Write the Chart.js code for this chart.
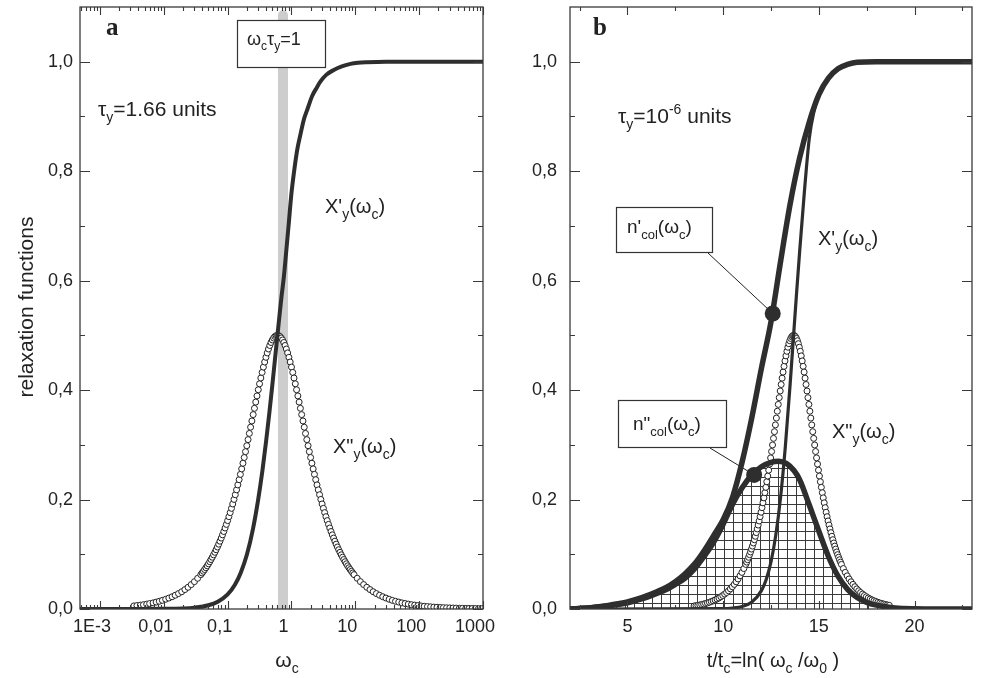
<!DOCTYPE html>
<html>
<head>
<meta charset="utf-8">
<script src="https://cdn.jsdelivr.net/npm/chart.js@4.4.1/dist/chart.umd.min.js"></script>
<style>
  body { margin: 0; background: #fff; overflow: hidden; }
  #wrap { position: relative; width: 981px; height: 678px; }
  canvas { position: absolute; top: 0; }
  #chartA { left: 0; }
  #chartB { left: 490px; }
</style>
</head>
<body>
<div id="wrap">
  <canvas id="chartB" width="491" height="678"></canvas>
  <canvas id="chartA" width="500" height="678"></canvas>
</div>
<script>
//***DATA***
// panel a : omega axis (log)
var omegaMin = 0.000487, omegaMax = 1000
var omegaTicks = [0.001, 0.01, 0.1, 1, 10, 100, 1000]
var omegaLabels = ['1E-3', '0,01', '0,1', '1', '10', '100', '1000']
var yTicks = [0, 0.2, 0.4, 0.6, 0.8, 1.0]
var yLabels = ['0,0', '0,2', '0,4', '0,6', '0,8', '1,0']
var yMinor = [0.1, 0.3, 0.5, 0.7, 0.9]

// X'y(wc), panel a
var omegaXpA = [0.000487, 0.005, 0.01, 0.02, 0.03, 0.05, 0.07, 0.1, 0.13, 0.16, 0.2, 0.25, 0.3, 0.35, 0.4, 0.45, 0.5, 0.55, 0.6, 0.65, 0.7, 0.76, 0.83, 0.9, 1.0, 1.1, 1.23, 1.4, 1.56, 1.8, 2.1, 2.5, 2.85, 3.5, 4.6, 6, 8.4, 11, 15, 30, 1000]
var xpA = [0, 0.0001, 0.0003, 0.0011, 0.0025, 0.0068, 0.0133, 0.0268, 0.0445, 0.066, 0.099, 0.147, 0.199, 0.252, 0.306, 0.358, 0.408, 0.455, 0.498, 0.537, 0.572, 0.607, 0.655, 0.70, 0.76, 0.80, 0.839, 0.87, 0.894, 0.915, 0.937, 0.953, 0.964, 0.976, 0.985, 0.991, 0.996, 0.998, 0.999, 1.0, 1.0]

// X"y(wc), panel a (open circles)
var omegaXppA = [
  0.0034, 0.0038, 0.0043, 0.0048, 0.0054, 0.0060, 0.0068, 0.0076, 0.0085, 0.0095, 0.0107, 0.0120, 0.0135, 0.0151, 0.0170, 0.0191, 0.0214, 0.0240, 0.0269, 0.0302, 0.0339, 0.0380,
  0.0398, 0.0417, 0.0436, 0.0457, 0.0479, 0.0501, 0.0525, 0.0549, 0.0575, 0.0602, 0.0631, 0.0660, 0.0692, 0.0724, 0.0758, 0.0794, 0.0831, 0.0871, 0.0912, 0.0955,
  0.1000, 0.1047, 0.1096, 0.1148, 0.1202, 0.1258, 0.1318, 0.1380, 0.1445, 0.1513, 0.1584, 0.1659, 0.1737, 0.1819, 0.1905, 0.1995, 0.2089, 0.2187, 0.2290, 0.2398,
  0.2511, 0.2630, 0.2754, 0.2883, 0.3019, 0.3161, 0.3310, 0.3466, 0.3630, 0.3801, 0.3980, 0.4168, 0.4364, 0.4570, 0.4785, 0.5011, 0.5247, 0.5494, 0.5753,
  0.6024,
  0.6308, 0.6605, 0.6917, 0.7243, 0.7584, 0.7942, 0.8316, 0.8707, 0.9118, 0.9548, 0.9998, 1.047, 1.096, 1.148, 1.202, 1.259, 1.318, 1.380, 1.445, 1.513,
  1.585, 1.659, 1.737, 1.819, 1.905, 1.995, 2.089, 2.187, 2.290, 2.398, 2.511, 2.630, 2.754, 2.883, 3.019, 3.162, 3.311, 3.467, 3.630, 3.801,
  3.980, 4.168, 4.364, 4.570, 4.785, 5.011, 5.247, 5.494, 5.753, 6.024, 6.308, 6.605, 6.917, 7.243, 7.584, 7.942, 8.316, 8.707, 9.118,
  9.548, 10.71, 12.02, 13.49, 15.13, 16.98, 19.05, 21.37, 23.98, 26.91, 30.19, 33.88, 38.01, 42.65, 47.85, 53.69, 60.24, 67.59, 75.84, 85.10, 95.48,
  107.1, 120.2, 134.9, 151.3, 169.8, 190.5, 213.7, 239.8, 269.1, 301.9, 338.8, 380.1, 426.5, 478.5, 536.9, 602.4, 675.9, 758.4, 851.0, 954.8
]
var xppA = [
  0.0056, 0.0063, 0.0071, 0.0079, 0.0089, 0.0100, 0.0112, 0.0126, 0.0141, 0.0158, 0.0178, 0.0200, 0.0224, 0.0251, 0.0282, 0.0316, 0.0355, 0.0397, 0.0446, 0.0500, 0.0561, 0.0628,
  0.0658, 0.0689, 0.0721, 0.0754, 0.0789, 0.0826, 0.0864, 0.0904, 0.0946, 0.0990, 0.1036, 0.1083, 0.1133, 0.1185, 0.1239, 0.1296, 0.1355, 0.1416, 0.1480, 0.1546,
  0.1615, 0.1687, 0.1761, 0.1839, 0.1919, 0.2002, 0.2088, 0.2177, 0.2268, 0.2363, 0.2460, 0.2560, 0.2663, 0.2768, 0.2875, 0.2984, 0.3095, 0.3208, 0.3322, 0.3436,
  0.3552, 0.3667, 0.3781, 0.3894, 0.4006, 0.4115, 0.4221, 0.4323, 0.4420, 0.4513, 0.4599, 0.4679, 0.4751, 0.4815, 0.4870, 0.4916, 0.4952, 0.4979, 0.4995,
  0.5,
  0.4995, 0.4979, 0.4952, 0.4916, 0.4870, 0.4815, 0.4751, 0.4679, 0.4599, 0.4513, 0.4420, 0.4323, 0.4221, 0.4115, 0.4006, 0.3894, 0.3781, 0.3667, 0.3552, 0.3436,
  0.3322, 0.3208, 0.3095, 0.2984, 0.2875, 0.2768, 0.2663, 0.2560, 0.2460, 0.2363, 0.2268, 0.2177, 0.2088, 0.2002, 0.1919, 0.1839, 0.1761, 0.1687, 0.1615, 0.1546,
  0.1480, 0.1416, 0.1355, 0.1296, 0.1239, 0.1185, 0.1133, 0.1083, 0.1036, 0.0990, 0.0946, 0.0904, 0.0864, 0.0826, 0.0789, 0.0754, 0.0721, 0.0689, 0.0658,
  0.0628, 0.0561, 0.0500, 0.0446, 0.0397, 0.0355, 0.0316, 0.0282, 0.0251, 0.0224, 0.0200, 0.0178, 0.0158, 0.0141, 0.0126, 0.0112, 0.0100, 0.0089, 0.0079, 0.0071, 0.0063,
  0.0056, 0.0050, 0.0045, 0.0040, 0.0035, 0.0032, 0.0028, 0.0025, 0.0022, 0.0020, 0.0018, 0.0016, 0.0014, 0.0013, 0.0011, 0.0010, 0.0009, 0.0008, 0.0007, 0.0006
]

// grey band at wc*ty = 1
var bandOmega = [0.736, 0.736]
var bandY = [0, 1.085]

// panel b : t/tc axis
var tMin = 2, tMax = 23
var tTicks = [5, 10, 15, 20]
var tLabels = ['5', '10', '15', '20']
var tMinor = [2.5, 7.5, 12.5, 17.5, 22.5]

// n'col(wc)
var tNpB = [2, 2.5, 3, 3.5, 4, 4.5, 5, 5.5, 6, 6.5, 7, 7.5, 8, 8.5, 9, 9.5, 10, 10.5, 11, 11.5, 12, 12.5, 13, 13.5, 14, 14.5, 15, 15.5, 16, 16.5, 17, 18, 23]
var npB = [0, 0.001, 0.0025, 0.004, 0.0065, 0.0095, 0.013, 0.018, 0.024, 0.031, 0.039, 0.05, 0.064, 0.082, 0.106, 0.134, 0.163, 0.205, 0.27, 0.35, 0.44, 0.525, 0.635, 0.74, 0.825, 0.89, 0.94, 0.97, 0.987, 0.995, 0.999, 1, 1]

// n"col(wc)
var tNppB = [2, 2.5, 3, 3.5, 4, 4.5, 5, 5.5, 6, 6.5, 7, 7.5, 8, 8.5, 9, 9.5, 10, 10.5, 11, 11.5, 12, 12.5, 12.9, 13.3, 13.7, 14, 14.5, 15, 15.5, 16, 16.5, 17, 17.5, 18, 18.5, 19, 20, 21, 23]
var nppB = [0, 0.001, 0.002, 0.0035, 0.0055, 0.008, 0.0115, 0.016, 0.021, 0.028, 0.035, 0.045, 0.056, 0.073, 0.096, 0.122, 0.155, 0.192, 0.222, 0.245, 0.26, 0.268, 0.27, 0.266, 0.253, 0.236, 0.19, 0.142, 0.096, 0.06, 0.036, 0.021, 0.012, 0.007, 0.004, 0.002, 0.0005, 0, 0]

// X'y(wc), panel b
var tXpB = [2, 10, 10.5, 11, 11.5, 12, 12.25, 12.5, 12.75, 13, 13.25, 13.5, 13.68, 13.85, 14, 14.25, 14.5, 14.75, 15, 15.5, 16, 16.5, 17, 18, 23]
var xpB = [0, 0.0006, 0.0017, 0.0047, 0.0126, 0.0336, 0.054, 0.086, 0.135, 0.204, 0.297, 0.411, 0.5, 0.584, 0.655, 0.765, 0.86, 0.91, 0.94, 0.97, 0.987, 0.995, 0.999, 1, 1]

// X"y(wc), panel b (open circles)
var tXppB = [
  8.48, 8.58, 8.68, 8.78, 8.88, 8.98, 9.08, 9.18, 9.28, 9.38, 9.48, 9.58, 9.68, 9.78, 9.88, 9.98, 10.08, 10.18, 10.28, 10.38, 10.48, 10.58, 10.68, 10.78, 10.88, 10.98, 11.08,
  11.18, 11.23, 11.28, 11.33, 11.38, 11.43, 11.48, 11.53, 11.58, 11.63, 11.68, 11.73, 11.78, 11.83, 11.88, 11.93, 11.98, 12.03, 12.08, 12.13, 12.18, 12.23, 12.28, 12.33, 12.38,
  12.43, 12.48, 12.53, 12.58, 12.63, 12.68, 12.73, 12.78, 12.83, 12.88, 12.93, 12.98, 13.03, 13.08, 13.13, 13.18, 13.23, 13.28, 13.33, 13.38, 13.43, 13.48, 13.53, 13.58, 13.63,
  13.68,
  13.73, 13.78, 13.83, 13.88, 13.93, 13.98, 14.03, 14.08, 14.13, 14.18, 14.23, 14.28, 14.33, 14.38, 14.43, 14.48, 14.53, 14.58, 14.63, 14.68, 14.73, 14.78, 14.83, 14.88, 14.93,
  14.98, 15.03, 15.08, 15.13, 15.18, 15.23, 15.28, 15.33, 15.38, 15.43, 15.48, 15.53, 15.58, 15.63, 15.68, 15.73, 15.78, 15.83, 15.88, 15.93, 15.98, 16.03, 16.08, 16.13, 16.18,
  16.28, 16.38, 16.48, 16.58, 16.68, 16.78, 16.88, 16.98, 17.08, 17.18, 17.28, 17.38, 17.48, 17.58, 17.68, 17.78, 17.88, 17.98, 18.08, 18.18, 18.28, 18.38, 18.48, 18.58, 18.68
]
var xppB = [
  0.0055, 0.0061, 0.0067, 0.0074, 0.0082, 0.0091, 0.0101, 0.0111, 0.0123, 0.0136, 0.0150, 0.0166, 0.0183, 0.0202, 0.0224, 0.0247, 0.0273, 0.0301, 0.0333, 0.0368, 0.0407, 0.0450, 0.0497, 0.0549, 0.0606, 0.0669, 0.0739,
  0.0815, 0.0857, 0.0900, 0.0945, 0.0993, 0.1042, 0.1095, 0.1149, 0.1206, 0.1266, 0.1329, 0.1395, 0.1463, 0.1534, 0.1609, 0.1687, 0.1768, 0.1852, 0.1940, 0.2031, 0.2125, 0.2223, 0.2325, 0.2429, 0.2537,
  0.2648, 0.2761, 0.2878, 0.2997, 0.3118, 0.3240, 0.3364, 0.3489, 0.3614, 0.3738, 0.3862, 0.3984, 0.4102, 0.4218, 0.4329, 0.4434, 0.4533, 0.4625, 0.4709, 0.4783, 0.4848, 0.4902, 0.4944, 0.4975, 0.4994,
  0.5,
  0.4994, 0.4975, 0.4944, 0.4902, 0.4848, 0.4783, 0.4709, 0.4625, 0.4533, 0.4434, 0.4329, 0.4218, 0.4102, 0.3984, 0.3862, 0.3738, 0.3614, 0.3489, 0.3364, 0.3240, 0.3118, 0.2997, 0.2878, 0.2761, 0.2648,
  0.2537, 0.2429, 0.2325, 0.2223, 0.2125, 0.2031, 0.1940, 0.1852, 0.1768, 0.1687, 0.1609, 0.1534, 0.1463, 0.1395, 0.1329, 0.1266, 0.1206, 0.1149, 0.1095, 0.1042, 0.0993, 0.0945, 0.0900, 0.0857, 0.0815,
  0.0739, 0.0669, 0.0606, 0.0549, 0.0497, 0.0450, 0.0407, 0.0368, 0.0333, 0.0301, 0.0273, 0.0247, 0.0224, 0.0202, 0.0183, 0.0166, 0.0150, 0.0136, 0.0123, 0.0111, 0.0101, 0.0091, 0.0082, 0.0074, 0.0067
]

// filled markers on n' and n"
var markerT = [12.59, 11.62]
var markerV = [0.54, 0.245]

//***HELPERS***
var INK = '#2e2e2e'
var SANS = "'Liberation Sans', Arial, sans-serif"
var SERIF = "'Liberation Serif', 'Times New Roman', serif"
Chart.defaults.font.family = SANS
Chart.defaults.color = '#222'

function pts(xs, ys) {
  var n = Math.min(xs.length, ys.length), out = []
  for (var i = 0; i < n; i++) out.push({x: xs[i], y: ys[i]})
  return out
}

// text with sub (1) / sup (2) parts
function drawRich(ctx, t) {
  var size = t.size, fam = t.family || SANS, w = 0
  function fnt(k) { return (t.weight ? t.weight + ' ' : '') + (k ? Math.round(size * 0.68) : size) + 'px ' + fam }
  t.parts.forEach(function (p) { ctx.font = fnt(p[1]); w += ctx.measureText(p[0]).width })
  var x = t.align === 'center' ? t.x - w / 2 : t.x
  ctx.fillStyle = '#222'
  ctx.textBaseline = 'alphabetic'
  ctx.textAlign = 'left'
  t.parts.forEach(function (p) {
    ctx.font = fnt(p[1])
    var dy = p[1] === 1 ? size * 0.3 : p[1] === 2 ? -size * 0.42 : 0
    ctx.fillText(p[0], x, t.y + dy)
    x += ctx.measureText(p[0]).width
  })
}

function deco(cfg) {
  return {
    id: 'deco',
    beforeDatasetsDraw: function (chart) {
      var ctx = chart.ctx
      ctx.save()
      ctx.strokeStyle = '#222'
      ctx.lineWidth = 1
      ;(cfg.callouts || []).forEach(function (c) {
        ctx.beginPath()
        ctx.moveTo(c.from[0], c.from[1])
        ctx.lineTo(chart.scales.x.getPixelForValue(c.to[0]), chart.scales.y.getPixelForValue(c.to[1]))
        ctx.stroke()
      })
      ctx.restore()
    },
    afterDatasetsDraw: function (chart) {
      var ctx = chart.ctx, a = chart.chartArea, xs = chart.scales.x, ys = chart.scales.y
      ctx.save()
      // frame
      ctx.strokeStyle = '#3a3a3a'
      ctx.lineWidth = 1.3
      ctx.strokeRect(a.left, a.top, a.right - a.left, a.bottom - a.top)
      // inward ticks on all four sides
      ctx.lineWidth = 1.1
      ctx.beginPath()
      function xt(v, len) {
        var p = Math.round(xs.getPixelForValue(v)) + 0.5
        ctx.moveTo(p, a.bottom); ctx.lineTo(p, a.bottom - len)
        ctx.moveTo(p, a.top); ctx.lineTo(p, a.top + len)
      }
      function yt(v, len) {
        var p = Math.round(ys.getPixelForValue(v)) + 0.5
        ctx.moveTo(a.left, p); ctx.lineTo(a.left + len, p)
        ctx.moveTo(a.right, p); ctx.lineTo(a.right - len, p)
      }
      cfg.xMajor.forEach(function (v) { xt(v, 8) })
      cfg.xMinor.forEach(function (v) { xt(v, 4) })
      yTicks.forEach(function (v) { yt(v, 10) })
      yMinor.forEach(function (v) { yt(v, 5) })
      ctx.stroke()
      // label boxes
      ;(cfg.boxes || []).forEach(function (b) {
        ctx.fillStyle = '#fff'
        ctx.fillRect(b[0], b[1], b[2], b[3])
        ctx.strokeStyle = '#333'
        ctx.lineWidth = 1.2
        ctx.strokeRect(b[0], b[1], b[2], b[3])
      })
      cfg.texts.forEach(function (t) { drawRich(ctx, t) })
      if (cfg.yTitle) {
        ctx.save()
        ctx.translate(cfg.yTitle.x, cfg.yTitle.y)
        ctx.rotate(-Math.PI / 2)
        ctx.font = cfg.yTitle.size + 'px ' + SANS
        ctx.textAlign = 'center'
        ctx.textBaseline = 'middle'
        ctx.fillStyle = '#222'
        ctx.fillText(cfg.yTitle.text, 0, 0)
        ctx.restore()
      }
      ctx.restore()
    }
  }
}

// scales keep a fixed box, no extra label padding
function noPad(s) {
  s.paddingTop = 0
  s.paddingBottom = 0
  s.paddingLeft = 0
  s.paddingRight = 0
}

function yScale(pad) {
  return {
    min: 0, max: 1.1,
    grid: {display: false, drawTicks: false},
    border: {display: false},
    afterBuildTicks: function (s) { s.ticks = yTicks.map(function (v) { return {value: v} }) },
    ticks: {padding: pad, font: {size: 18}, color: '#222', callback: function (v, i) { return yLabels[i] }},
    afterFit: function (s) { s.width = 80; noPad(s) }
  }
}

var common = {
  responsive: false,
  animation: false,
  events: [],
  plugins: {legend: {display: false}, tooltip: {enabled: false}, filler: {drawTime: 'beforeDatasetsDraw'}}
}

//***PANEL A***
var minorA = []
for (var e = -4; e < 3; e++) {
  for (var k = 2; k < 10; k++) {
    var mv = k * Math.pow(10, e)
    if (mv > omegaMin && mv < omegaMax) minorA.push(mv)
  }
}

new Chart(document.getElementById('chartA'), {
  type: 'scatter',
  data: {datasets: [
    {data: pts(omegaXpA, xpA), showLine: true, borderColor: INK, borderWidth: 4, pointRadius: 0, cubicInterpolationMode: 'monotone', borderCapStyle: 'round'},
    {data: pts(omegaXppA, xppA), showLine: false, pointRadius: 3, pointBorderWidth: 1, pointBorderColor: '#222', pointBackgroundColor: '#fff'},
    {data: pts(bandOmega, bandY), showLine: true, borderColor: '#cdcdcd', borderWidth: 10, borderCapStyle: 'round', pointRadius: 0, clip: 0}
  ]},
  options: Object.assign({}, common, {
    layout: {padding: {top: 7, right: 17, left: 0, bottom: 0}, autoPadding: false},
    scales: {
      x: {
        type: 'logarithmic', min: omegaMin, max: omegaMax,
        grid: {display: false, drawTicks: false},
        border: {display: false},
        afterBuildTicks: function (s) { s.ticks = omegaTicks.map(function (v) { return {value: v} }) },
        ticks: {autoSkip: false, maxRotation: 0, padding: 7, labelOffset: -8, font: {size: 18}, color: '#222',
          callback: function (v, i) { return omegaLabels[i] }},
        afterFit: function (s) { s.height = 69; noPad(s) }
      },
      y: yScale(7)
    }
  }),
  plugins: [deco({
    xMajor: omegaTicks, xMinor: minorA,
    boxes: [[237.5, 20.5, 88, 47]],
    texts: [
      {parts: [['a', 0]], x: 106, y: 35, size: 25, family: SERIF, weight: 'bold'},
      {parts: [['ω', 0], ['c', 1], ['τ', 0], ['y', 1], ['=1', 0]], x: 247, y: 45, size: 18},
      {parts: [['τ', 0], ['y', 1], ['=1.66 units', 0]], x: 98, y: 116, size: 21},
      {parts: [["X'", 0], ['y', 1], ['(ω', 0], ['c', 1], [')', 0]], x: 325, y: 213, size: 20},
      {parts: [['X"', 0], ['y', 1], ['(ω', 0], ['c', 1], [')', 0]], x: 333, y: 453, size: 20},
      {parts: [['ω', 0], ['c', 1]], x: 287, y: 667, size: 21, align: 'center'}
    ],
    yTitle: {text: 'relaxation functions', x: 27, y: 307, size: 21}
  })]
})

//***PANEL B***
var pc = document.createElement('canvas')
pc.width = 9; pc.height = 9
var pctx = pc.getContext('2d')
pctx.fillStyle = '#3a3a3a'
pctx.fillRect(0, 0, 1, 9)
pctx.fillRect(0, 0, 9, 1)
var hatch = document.getElementById('chartB').getContext('2d').createPattern(pc, 'repeat')

new Chart(document.getElementById('chartB'), {
  type: 'scatter',
  data: {datasets: [
    {data: pts(markerT, markerV), showLine: false, pointRadius: 8, pointBorderWidth: 0, pointBackgroundColor: INK},
    {data: pts(tNpB, npB), showLine: true, borderColor: INK, borderWidth: 5.5, pointRadius: 0, cubicInterpolationMode: 'monotone', borderCapStyle: 'round'},
    {data: pts(tNppB, nppB), showLine: true, borderColor: INK, borderWidth: 5.5, pointRadius: 0, cubicInterpolationMode: 'monotone', borderCapStyle: 'round',
      fill: 'origin', backgroundColor: hatch},
    {data: pts(tXpB, xpB), showLine: true, borderColor: INK, borderWidth: 3.2, pointRadius: 0, cubicInterpolationMode: 'monotone', borderCapStyle: 'round'},
    {data: pts(tXppB, xppB), showLine: false, pointRadius: 3, pointBorderWidth: 1, pointBorderColor: '#222', pointBackgroundColor: '#fff'}
  ]},
  options: Object.assign({}, common, {
    layout: {padding: {top: 7, right: 9, left: 0, bottom: 0}, autoPadding: false},
    scales: {
      x: {
        type: 'linear', min: tMin, max: tMax,
        grid: {display: false, drawTicks: false},
        border: {display: false},
        afterBuildTicks: function (s) { s.ticks = tTicks.map(function (v) { return {value: v} }) },
        ticks: {autoSkip: false, maxRotation: 0, padding: 7, font: {size: 18}, color: '#222',
          callback: function (v, i) { return tLabels[i] }},
        afterFit: function (s) { s.height = 69; noPad(s) }
      },
      y: yScale(13)
    }
  }),
  plugins: [deco({
    xMajor: tTicks, xMinor: tMinor,
    boxes: [[126.5, 207.5, 96, 45], [128.5, 400.5, 108, 47]],
    callouts: [
      {from: [218, 253], to: [markerT[0], markerV[0]]},
      {from: [220, 448], to: [markerT[1], markerV[1]]}
    ],
    texts: [
      {parts: [['b', 0]], x: 103, y: 35, size: 25, family: SERIF, weight: 'bold'},
      {parts: [['τ', 0], ['y', 1], ['=10', 0], ['-6', 2], [' units', 0]], x: 128, y: 123, size: 21},
      {parts: [["X'", 0], ['y', 1], ['(ω', 0], ['c', 1], [')', 0]], x: 328, y: 245, size: 20},
      {parts: [['X"', 0], ['y', 1], ['(ω', 0], ['c', 1], [')', 0]], x: 342, y: 438, size: 20},
      {parts: [["n'", 0], ['col', 1], ['(ω', 0], ['c', 1], [')', 0]], x: 137, y: 233, size: 19},
      {parts: [['n"', 0], ['col', 1], ['(ω', 0], ['c', 1], [')', 0]], x: 143, y: 430, size: 19},
      {parts: [['t/t', 0], ['c', 1], ['=ln( ω', 0], ['c', 1], [' /ω', 0], ['0', 1], [' )', 0]], x: 283, y: 667, size: 20, align: 'center'}
    ]
  })]
})
</script>
</body>
</html>
